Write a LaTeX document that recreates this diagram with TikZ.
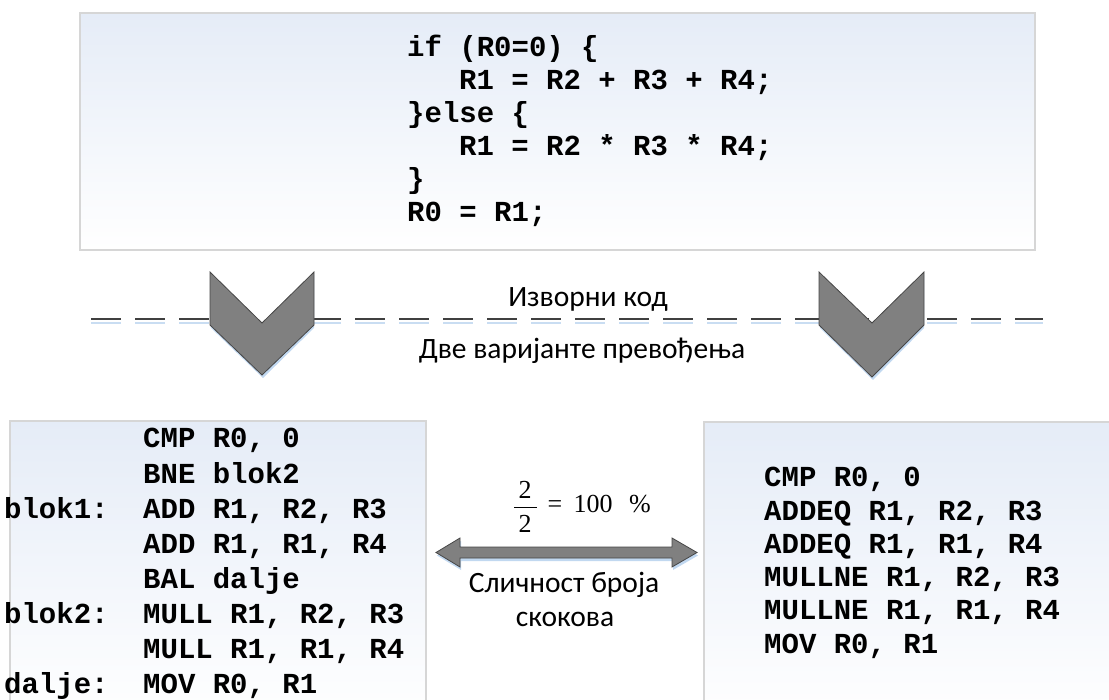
\documentclass[tikz,border=0pt]{standalone}
\usepackage{fontspec}
\setmainfont{Carlito}
\newfontfamily\monofam{Liberation Mono}
\newfontfamily\serifam{Liberation Serif}
\newcommand\asmfont{\monofam\bfseries\fontsize{29}{33}\selectfont}
\newcommand\capfont{\fontsize{29.5}{34}\selectfont}
\newcommand\fracfont{\serifam\fontsize{26}{30}\selectfont}

\definecolor{boxtop}{RGB}{229,236,247}
\definecolor{boxline}{RGB}{214,214,214}
\definecolor{chevfill}{RGB}{128,128,128}
\definecolor{chevline}{RGB}{70,70,70}
\definecolor{glow}{RGB}{178,206,236}
\definecolor{dashgray}{RGB}{64,64,64}

\tikzset{
  codebox/.style={draw=boxline, line width=2pt, top color=boxtop, bottom color=white,
    anchor=north west, inner sep=0pt, rectangle},
  asm/.style={font=\asmfont, anchor=base west, inner sep=0pt},
  caption/.style={font=\capfont, anchor=base, inner sep=0pt},
  fracnum/.style={font=\fracfont, anchor=base, inner sep=0pt},
  chevron/.style={fill=chevfill, draw=chevline, line width=0.8pt, line join=miter},
  glowshape/.style={fill=glow, draw=none, opacity=0.8},
  dashline/.style={draw=dashgray, line width=2.4pt, dash pattern=on 29.5pt off 14.5pt},
  glowline/.style={draw=glow, line width=1.2pt, opacity=0.7, dash pattern=on 29.5pt off 14.5pt},
}

\begin{document}
\begin{tikzpicture}[x=1pt, y=-1pt]
  \useasboundingbox (0,0) rectangle (1109,700);
  \clip (0,0) rectangle (1109,700);

  % source code panel
  \node[codebox, minimum width=955pt, minimum height=237pt] (src) at (79,12) {};
  \node[asm] (s1) at (407,56.5)  {if (R0=0) \{};
  \node[asm] (s2) at (459,89.5)  {R1 = R2 + R3 + R4;};
  \node[asm] (s3) at (407,122.5) {\}else \{};
  \node[asm] (s4) at (459,155.5) {R1 = R2 * R3 * R4;};
  \node[asm] (s5) at (407,188.5) {\}};
  \node[asm] (s6) at (407,221.5) {R0 = R1;};

  % dashed separator with its soft shadow
  \coordinate (dl) at (91,319);
  \coordinate (dr) at (1043,319);
  \draw[glowline] ([yshift=-4pt]dl) -- ([yshift=-4pt]dr);
  \draw[dashline] (dl) -- (dr);

  % the two chevrons
  \fill[glowshape] (210,275) -- (262,326) -- (314,275) -- (314,328) -- (263,378) -- (211,328) -- cycle;
  \path[chevron] (210,272) -- (262,323) -- (314,272) -- (314,325) -- (262,375) -- (210,325) -- cycle;
  \fill[glowshape] (819,275) -- (872,326) -- (924,275) -- (924,328) -- (873,380) -- (820,328) -- cycle;
  \path[chevron] (819,272) -- (872,323) -- (924,272) -- (924,325) -- (872,377) -- (819,325) -- cycle;

  \node[caption] (srclbl) at (588,307) {Изворни код};
  \node[caption] (twolbl) at (582,359) {Две варијанте превођења};

  % translation with branches
  \node[codebox, minimum width=416pt, minimum height=300pt] (left) at (9,420) {};
  \node[asm] (a1) at (143,448)   {CMP R0, 0};
  \node[asm] (a2) at (143,483.1) {BNE blok2};
  \node[asm] (l1) at (4,518.2)   {blok1:};
  \node[asm] (a3) at (143,518.2) {ADD R1, R2, R3};
  \node[asm] (a4) at (143,553.3) {ADD R1, R1, R4};
  \node[asm] (a5) at (143,588.4) {BAL dalje};
  \node[asm] (l2) at (4,623.5)   {blok2:};
  \node[asm] (a6) at (143,623.5) {MULL R1, R2, R3};
  \node[asm] (a7) at (143,658.6) {MULL R1, R1, R4};
  \node[asm] (l3) at (4,693.7)   {dalje:};
  \node[asm] (a8) at (143,693.7) {MOV R0, R1};

  % translation with conditional execution
  \node[codebox, minimum width=450pt, minimum height=300pt] (right) at (703,421) {};
  \node[asm] (b1) at (764,486.7) {CMP R0, 0};
  \node[asm] (b2) at (764,520)   {ADDEQ R1, R2, R3};
  \node[asm] (b3) at (764,553.3) {ADDEQ R1, R1, R4};
  \node[asm] (b4) at (764,586.6) {MULLNE R1, R2, R3};
  \node[asm] (b5) at (764,619.9) {MULLNE R1, R1, R4};
  \node[asm] (b6) at (764,653.2) {MOV R0, R1};

  % comparison arrow between the two translations
  \fill[glowshape] (437,555.5) -- (461,541) -- (461,550) -- (673,550) -- (673,541) -- (698,555.5)
    -- (673,570) -- (673,561) -- (461,561) -- (461,570) -- cycle;
  \path[chevron] (436,552.5) -- (460,538) -- (460,547) -- (672,547) -- (672,538) -- (697,552.5)
    -- (672,567) -- (672,558) -- (460,558) -- (460,567) -- cycle;

  \node[fracnum] (num) at (525,498) {2};
  \draw[line width=1pt] (514,507) -- (537,507);
  \node[fracnum] (den) at (525,532) {2};
  \node[fracnum] (eq)  at (555,512) {=};
  \node[fracnum] (val) at (593,512) {100};
  \node[fracnum] (pct) at (640,512) {\%};

  \node[caption] (sim1) at (564,592) {Сличност броја};
  \node[caption] (sim2) at (565,626) {скокова};
\end{tikzpicture}
\end{document}
